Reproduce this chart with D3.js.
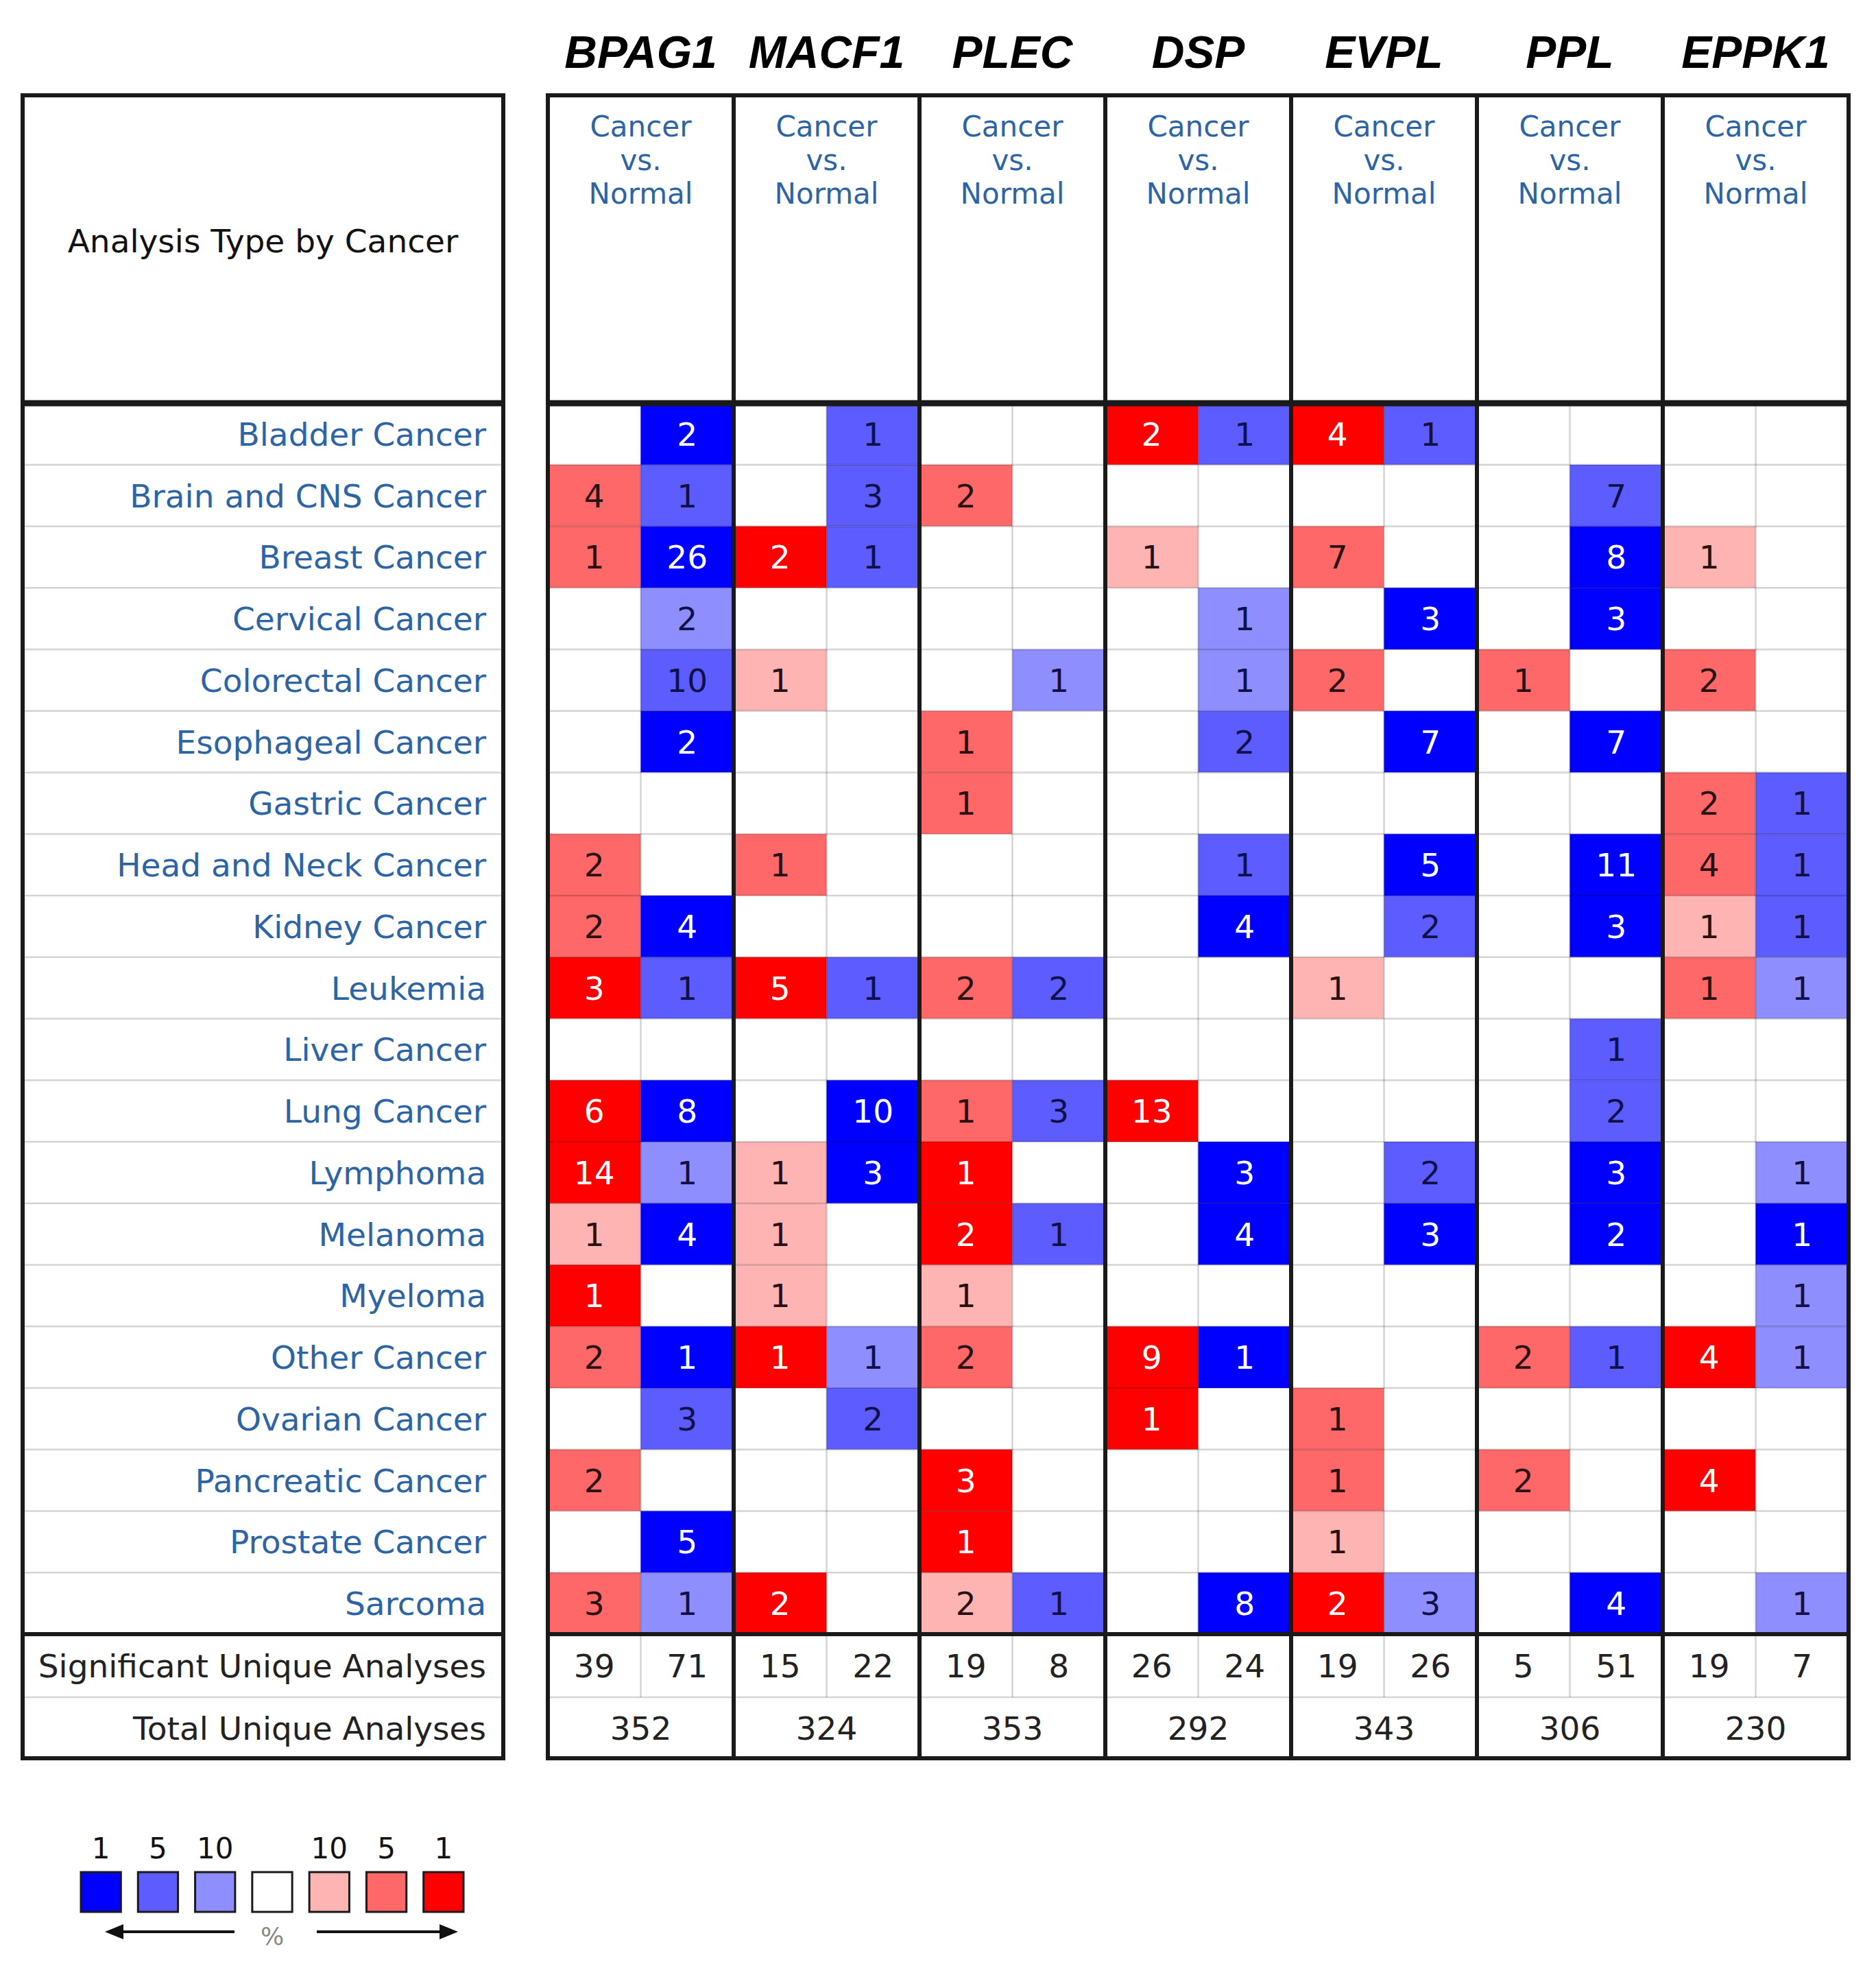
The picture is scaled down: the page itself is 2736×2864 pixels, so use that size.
<!DOCTYPE html>
<html>
<head>
<meta charset="utf-8">
<script src="https://cdn.jsdelivr.net/npm/d3@7"></script>
<style>
  html, body { margin: 0; padding: 0; background: #ffffff; }
  svg { display: block; }
</style>
</head>
<body>
<svg id="chart" width="2736" height="2864"></svg>
<script>
// ---------------- DATA ----------------
const genes = ["BPAG1", "MACF1", "PLEC", "DSP", "EVPL", "PPL", "EPPK1"];
const analysisWords = ["Cancer", "vs.", "Normal"];
const cancers = [
  "Bladder Cancer", "Brain and CNS Cancer", "Breast Cancer", "Cervical Cancer",
  "Colorectal Cancer", "Esophageal Cancer", "Gastric Cancer", "Head and Neck Cancer",
  "Kidney Cancer", "Leukemia", "Liver Cancer", "Lung Cancer", "Lymphoma", "Melanoma",
  "Myeloma", "Other Cancer", "Ovarian Cancer", "Pancreatic Cancer", "Prostate Cancer", "Sarcoma"
];
// over-expression (red) counts per cancer x gene
const upCounts = [
  [null, null, null, 2, 4, null, null],
  [4, null, 2, null, null, null, null],
  [1, 2, null, 1, 7, null, 1],
  [null, null, null, null, null, null, null],
  [null, 1, null, null, 2, 1, 2],
  [null, null, 1, null, null, null, null],
  [null, null, 1, null, null, null, 2],
  [2, 1, null, null, null, null, 4],
  [2, null, null, null, null, null, 1],
  [3, 5, 2, null, 1, null, 1],
  [null, null, null, null, null, null, null],
  [6, null, 1, 13, null, null, null],
  [14, 1, 1, null, null, null, null],
  [1, 1, 2, null, null, null, null],
  [1, 1, 1, null, null, null, null],
  [2, 1, 2, 9, null, 2, 4],
  [null, null, null, 1, 1, null, null],
  [2, null, 3, null, 1, 2, 4],
  [null, null, 1, null, 1, null, null],
  [3, 2, 2, null, 2, null, null]
];
// gene rank percentile bin (1, 5, 10) of over-expression cells
const upLevels = [
  [0, 0, 0, 1, 1, 0, 0],
  [5, 0, 5, 0, 0, 0, 0],
  [5, 1, 0, 10, 5, 0, 10],
  [0, 0, 0, 0, 0, 0, 0],
  [0, 10, 0, 0, 5, 5, 5],
  [0, 0, 5, 0, 0, 0, 0],
  [0, 0, 5, 0, 0, 0, 5],
  [5, 5, 0, 0, 0, 0, 5],
  [5, 0, 0, 0, 0, 0, 10],
  [1, 1, 5, 0, 10, 0, 5],
  [0, 0, 0, 0, 0, 0, 0],
  [1, 0, 5, 1, 0, 0, 0],
  [1, 10, 1, 0, 0, 0, 0],
  [10, 10, 1, 0, 0, 0, 0],
  [1, 10, 10, 0, 0, 0, 0],
  [5, 1, 5, 1, 0, 5, 1],
  [0, 0, 0, 1, 5, 0, 0],
  [5, 0, 1, 0, 5, 5, 1],
  [0, 0, 1, 0, 10, 0, 0],
  [5, 1, 10, 0, 1, 0, 0]
];
// under-expression (blue) counts per cancer x gene
const downCounts = [
  [2, 1, null, 1, 1, null, null],
  [1, 3, null, null, null, 7, null],
  [26, 1, null, null, null, 8, null],
  [2, null, null, 1, 3, 3, null],
  [10, null, 1, 1, null, null, null],
  [2, null, null, 2, 7, 7, null],
  [null, null, null, null, null, null, 1],
  [null, null, null, 1, 5, 11, 1],
  [4, null, null, 4, 2, 3, 1],
  [1, 1, 2, null, null, null, 1],
  [null, null, null, null, null, 1, null],
  [8, 10, 3, null, null, 2, null],
  [1, 3, null, 3, 2, 3, 1],
  [4, null, 1, 4, 3, 2, 1],
  [null, null, null, null, null, null, 1],
  [1, 1, null, 1, null, 1, 1],
  [3, 2, null, null, null, null, null],
  [null, null, null, null, null, null, null],
  [5, null, null, null, null, null, null],
  [1, null, 1, 8, 3, 4, 1]
];
const downLevels = [
  [1, 5, 0, 5, 5, 0, 0],
  [5, 5, 0, 0, 0, 5, 0],
  [1, 5, 0, 0, 0, 1, 0],
  [10, 0, 0, 10, 1, 1, 0],
  [5, 0, 10, 10, 0, 0, 0],
  [1, 0, 0, 5, 1, 1, 0],
  [0, 0, 0, 0, 0, 0, 5],
  [0, 0, 0, 5, 1, 1, 5],
  [1, 0, 0, 1, 5, 1, 5],
  [5, 5, 5, 0, 0, 0, 10],
  [0, 0, 0, 0, 0, 5, 0],
  [1, 1, 5, 0, 0, 5, 0],
  [10, 1, 0, 1, 5, 1, 10],
  [1, 0, 5, 1, 1, 1, 1],
  [0, 0, 0, 0, 0, 0, 10],
  [1, 10, 0, 1, 0, 5, 10],
  [5, 5, 0, 0, 0, 0, 0],
  [0, 0, 0, 0, 0, 0, 0],
  [1, 0, 0, 0, 0, 0, 0],
  [10, 0, 5, 1, 10, 1, 10]
];
const significantUp = [39, 15, 19, 26, 19, 5, 19];
const significantDown = [71, 22, 8, 24, 26, 51, 7];
const totalAnalyses = [352, 324, 353, 292, 343, 306, 230];
const legendBins = ["1", "5", "10", "", "10", "5", "1"];
const legendKeys = ["d1", "d5", "d10", "none", "u10", "u5", "u1"];

// ---------------- STYLE / LAYOUT ----------------
const colors = {
  u1: "#ff0000", u5: "#ff6868", u10: "#ffb4b4",
  d1: "#0000ff", d5: "#5c5cff", d10: "#8e8eff", none: "#ffffff"
};
const FONT = "'DejaVu Sans', Verdana, sans-serif";
const linkBlue = "#2c64a4";
const L = { x0: 33, x1: 734 };
const T = { x0: 799, x1: 2696 };
const headTop = 139, headBottom = 588, dataBottom = 2383, sigBottom = 2475, totBottom = 2564;

const svg = d3.select("#chart");
svg.append("rect").attr("width", 2736).attr("height", 2864).attr("fill", "#fff");

const xGene = d3.scaleBand().domain(genes).range([T.x0, T.x1]);
const xSub = d3.scaleBand().domain(["up", "down"]).range([0, xGene.bandwidth()]);
const yRow = d3.scaleBand().domain(cancers).range([headBottom, dataBottom]);

// gene titles
svg.append("g").selectAll("text").data(genes).join("text")
  .attr("x", g => xGene(g) + xGene.bandwidth() / 2)
  .attr("y", 99)
  .attr("text-anchor", "middle")
  .attr("font-family", "'Liberation Sans', Arial, sans-serif")
  .attr("font-weight", "bold").attr("font-style", "italic")
  .attr("font-size", 66).attr("fill", "#000")
  .text(g => g);

// header analysis type text (three stacked lines)
const headT = svg.append("g").selectAll("text").data(genes).join("text")
  .attr("text-anchor", "middle")
  .attr("font-family", FONT).attr("font-size", 42)
  .attr("fill", linkBlue);
headT.each(function (g) {
  const cx = xGene(g) + xGene.bandwidth() / 2;
  d3.select(this).selectAll("tspan").data(analysisWords).join("tspan")
    .attr("x", cx).attr("y", (w, i) => 199 + i * 49).text(w => w);
});
svg.append("text")
  .attr("x", (L.x0 + L.x1) / 2).attr("y", 368)
  .attr("text-anchor", "middle")
  .attr("font-family", FONT).attr("font-size", 47)
  .attr("fill", "#111").text("Analysis Type by Cancer");

// cells
const cells = [];
cancers.forEach((c, r) => {
  genes.forEach((g, gi) => {
    cells.push({ c, g, side: "up", v: upCounts[r][gi], lv: upLevels[r][gi] });
    cells.push({ c, g, side: "down", v: downCounts[r][gi], lv: downLevels[r][gi] });
  });
});
const colorOf = d => d.lv ? colors[(d.side === "up" ? "u" : "d") + d.lv] : "#fff";
const cellG = svg.append("g");
cellG.selectAll("rect").data(cells).join("rect")
  .attr("x", d => xGene(d.g) + xSub(d.side))
  .attr("y", d => yRow(d.c))
  .attr("width", xSub.bandwidth())
  .attr("height", yRow.bandwidth())
  .attr("fill", colorOf);
cellG.selectAll("text").data(cells.filter(d => d.v != null)).join("text")
  .attr("x", d => xGene(d.g) + xSub(d.side) + xSub.bandwidth() / 2)
  .attr("y", d => yRow(d.c) + yRow.bandwidth() / 2 + 17)
  .attr("text-anchor", "middle")
  .attr("font-family", FONT).attr("font-size", 47)
  .attr("fill", d => d.lv === 1 ? "#ffffff" : (d.side === "up" ? "#2a1010" : "#10104a"))
  .text(d => d.v);

// row labels
svg.append("g").selectAll("text").data(cancers).join("text")
  .attr("x", 709)
  .attr("y", c => yRow(c) + yRow.bandwidth() / 2 + 17)
  .attr("text-anchor", "end")
  .attr("font-family", FONT).attr("font-size", 47)
  .attr("fill", linkBlue).text(c => c);

// summary rows
const sigY = (dataBottom + sigBottom) / 2 + 17;
const totY = (sigBottom + totBottom) / 2 + 17;
svg.append("text").attr("x", 709).attr("y", sigY).attr("text-anchor", "end")
  .attr("font-family", FONT).attr("font-size", 47).attr("fill", "#222")
  .text("Significant Unique Analyses");
svg.append("text").attr("x", 709).attr("y", totY).attr("text-anchor", "end")
  .attr("font-family", FONT).attr("font-size", 47).attr("fill", "#222")
  .text("Total Unique Analyses");
genes.forEach((g, gi) => {
  [["up", significantUp[gi]], ["down", significantDown[gi]]].forEach(([s, v]) => {
    svg.append("text")
      .attr("x", xGene(g) + xSub(s) + xSub.bandwidth() / 2).attr("y", sigY)
      .attr("text-anchor", "middle").attr("font-family", FONT)
      .attr("font-size", 47).attr("fill", "#222").text(v);
  });
  svg.append("text")
    .attr("x", xGene(g) + xGene.bandwidth() / 2).attr("y", totY)
    .attr("text-anchor", "middle").attr("font-family", FONT)
    .attr("font-size", 47).attr("fill", "#222").text(totalAnalyses[gi]);
});

// thin grid lines
const thin = svg.append("g").attr("stroke", "rgba(0,0,0,0.17)").attr("stroke-width", 2.5);
cancers.slice(1).forEach(c => {
  thin.append("line").attr("x1", L.x0).attr("x2", L.x1).attr("y1", yRow(c)).attr("y2", yRow(c));
  thin.append("line").attr("x1", T.x0).attr("x2", T.x1).attr("y1", yRow(c)).attr("y2", yRow(c));
});
[L, T].forEach(b => thin.append("line").attr("x1", b.x0).attr("x2", b.x1)
  .attr("y1", sigBottom).attr("y2", sigBottom));
genes.forEach(g => {
  thin.append("line").attr("x1", xGene(g) + xSub("down")).attr("x2", xGene(g) + xSub("down"))
    .attr("y1", headBottom).attr("y2", sigBottom);
});

// thick lines
const thick = svg.append("g").attr("stroke", "#1a1a1a").attr("fill", "none");
[L, T].forEach(b => {
  thick.append("rect").attr("x", b.x0).attr("y", headTop)
    .attr("width", b.x1 - b.x0).attr("height", totBottom - headTop).attr("stroke-width", 6);
  thick.append("line").attr("x1", b.x0).attr("x2", b.x1).attr("y1", headBottom).attr("y2", headBottom)
    .attr("stroke-width", 9);
  thick.append("line").attr("x1", b.x0).attr("x2", b.x1).attr("y1", dataBottom).attr("y2", dataBottom)
    .attr("stroke-width", 6);
});
genes.slice(1).forEach(g => {
  thick.append("line").attr("x1", xGene(g)).attr("x2", xGene(g))
    .attr("y1", headTop).attr("y2", totBottom).attr("stroke-width", 6);
});

// legend
const xLeg = d3.scaleBand().domain(legendKeys).range([118, 676]).paddingInner(0.3);
const leg = svg.append("g");
leg.selectAll("rect").data(legendKeys).join("rect")
  .attr("x", k => xLeg(k)).attr("y", 2730)
  .attr("width", xLeg.bandwidth()).attr("height", 58)
  .attr("fill", k => colors[k]).attr("stroke", "#1a1a1a").attr("stroke-width", 3);
leg.selectAll("text").data(legendKeys).join("text")
  .attr("x", k => xLeg(k) + xLeg.bandwidth() / 2).attr("y", 2710)
  .attr("text-anchor", "middle").attr("font-family", FONT).attr("font-size", 42)
  .attr("fill", "#111").text((k, i) => legendBins[i]);
leg.append("text").attr("x", xLeg("none") + xLeg.bandwidth() / 2).attr("y", 2836)
  .attr("text-anchor", "middle").attr("font-family", FONT).attr("font-size", 36)
  .attr("fill", "#888").text("%");
leg.append("line").attr("x1", 172).attr("x2", 342).attr("y1", 2817).attr("y2", 2817)
  .attr("stroke", "#111").attr("stroke-width", 4);
leg.append("path").attr("d", "M153,2817 L180,2806 L180,2828 Z").attr("fill", "#111");
leg.append("line").attr("x1", 462).attr("x2", 648).attr("y1", 2817).attr("y2", 2817)
  .attr("stroke", "#111").attr("stroke-width", 4);
leg.append("path").attr("d", "M668,2817 L641,2806 L641,2828 Z").attr("fill", "#111");
</script>
</body>
</html>
